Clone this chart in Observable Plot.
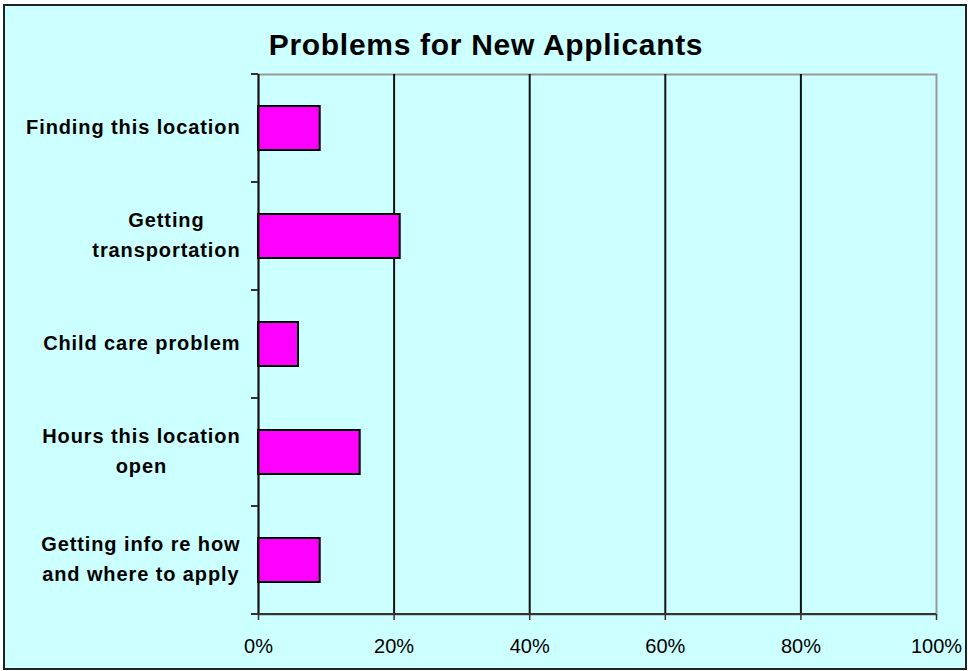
<!DOCTYPE html>
<html><head><meta charset="utf-8">
<script src="https://cdn.jsdelivr.net/npm/d3@7"></script>
<script src="https://cdn.jsdelivr.net/npm/@observablehq/plot@0.6"></script>
<style>
body{margin:0;background:#fff;}
#wrap{position:relative;width:968px;height:671px;overflow:hidden;}
#border{position:absolute;left:3px;top:4px;width:960px;height:662px;background:#CCFFFF;border:2px solid #222;}
#title{position:absolute;left:0;width:972px;top:29px;text-align:center;font:bold 30px "Liberation Sans",Arial,sans-serif;letter-spacing:0.7px;color:#000;line-height:32px;}
#chart{position:absolute;left:0;top:0;}
</style></head><body>
<div id="wrap"><div id="border"></div><div id="title">Problems for New Applicants</div><div id="chart"></div></div>
<script>
const categories = ["Finding this location", "Getting\ntransportation", "Child care problem", "Hours this location\nopen", "Getting info re how\nand where to apply"];
const values = [9.1, 20.9, 5.9, 15.0, 9.1];
const xTicks = [0, 20, 40, 60, 80, 100];
const gridLines = [20, 40, 60, 80];

const data = categories.map((c, i) => ({category: c, value: values[i]}));
const font = '"Liberation Sans", Arial, sans-serif';
const LS = 0.9;
const ctx = document.createElement("canvas").getContext("2d");
ctx.font = `bold 20px ${font}`;
const labelWidth = s => Math.max(...s.split("\n").map(l => ctx.measureText(l).width + l.length * LS));

const labelMarks = categories.map(c => Plot.text([c], {
  y: d => d, text: d => d, frameAnchor: "left", textAnchor: "middle", lineAnchor: "middle",
  lineHeight: 1.5, dx: -(18 + labelWidth(c) / 2), dy: -4, fontSize: 20, fontWeight: "bold", fill: "black"
}));

const plot = Plot.plot({
  width: 968, height: 671,
  marginLeft: 258, marginRight: 32, marginTop: 74, marginBottom: 57,
  style: {background: "transparent", fontFamily: font, color: "black", overflow: "visible"},
  x: {domain: [0, 100], ticks: xTicks, tickFormat: d => d + "%", label: null},
  y: {domain: categories, paddingInner: 0.59, paddingOuter: 0.295, axis: null, label: null},
  marks: [
    Plot.frame({stroke: "#999", strokeWidth: 2}),
    Plot.ruleX(gridLines, {stroke: "#111", strokeWidth: 2}),
    Plot.barX(data, {x: "value", y: "category", fill: "#FF00FF", stroke: "black", strokeWidth: 2}),
    Plot.ruleX([0], {stroke: "#111", strokeWidth: 2}),
    Plot.axisX({ticks: xTicks, tickFormat: d => d + "%", tickSize: 6, tickPadding: 18, fontSize: 20, stroke: "#333", strokeWidth: 1.5, label: null}),
    ...labelMarks
  ]
});
document.getElementById("chart").appendChild(plot);

// letter spacing for the category labels
const flat = new Set(categories.map(c => c.replace(/\n/g, "")));
d3.select(plot).selectAll("text").filter(function() { return flat.has(this.textContent); })
  .style("letter-spacing", LS + "px");

// category boundary ticks and bottom axis line, from the library's scales
const xs = plot.scale("x"), ys = plot.scale("y");
const x0 = xs.apply(0), x100 = xs.apply(100);
const half = (ys.step - ys.bandwidth) / 2;
const bounds = categories.map(c => ys.apply(c) - half);
bounds.push(ys.apply(categories[categories.length - 1]) + ys.bandwidth + half);
const g = d3.select(plot).append("g");
g.selectAll("line.t").data(bounds).join("line")
  .attr("x1", x0 - 7).attr("x2", x0).attr("y1", d => d).attr("y2", d => d)
  .attr("stroke", "#333").attr("stroke-width", 2);
g.append("line").attr("x1", x0 - 7).attr("x2", x100)
  .attr("y1", bounds[bounds.length - 1]).attr("y2", bounds[bounds.length - 1])
  .attr("stroke", "#333").attr("stroke-width", 2);
</script>
</body></html>
